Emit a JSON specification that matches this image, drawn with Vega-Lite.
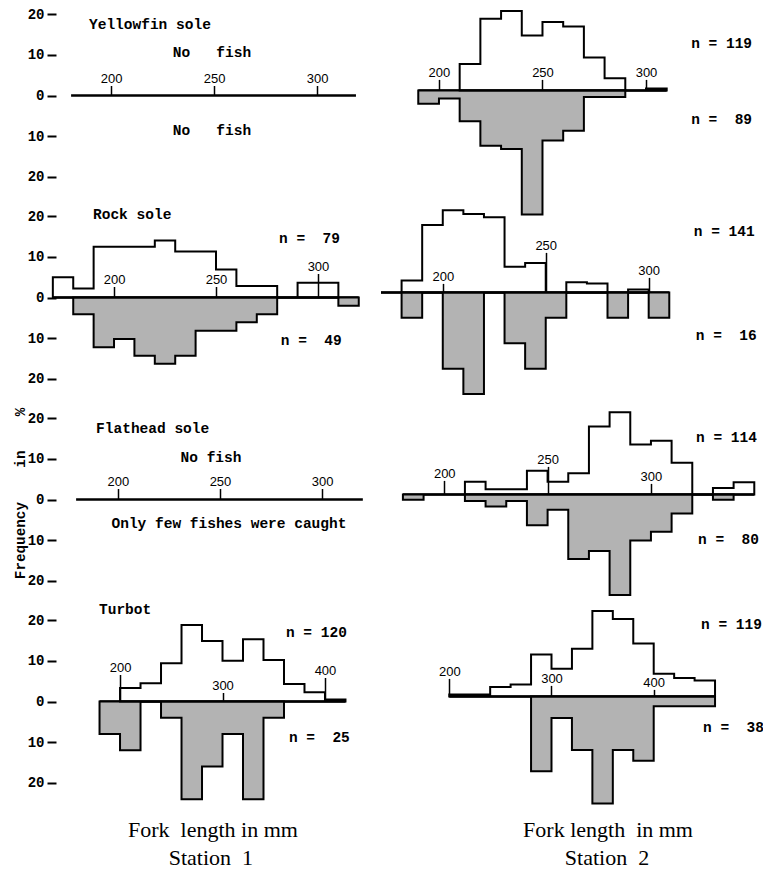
{
  "$schema": "https://vega.github.io/schema/vega-lite/v6.json",
  "background": "white",
  "padding": {"left": 13, "top": 6, "right": 0, "bottom": 0},
  "bounds": "flush",
  "columns": 2,
  "spacing": {"row": 23, "column": 10},
  "datasets": {
    "b": [
      {"p": "Y1", "from": 180.6, "to": 318.9},
      {"p": "Y2", "from": 190, "to": 310},
      {"p": "R1", "from": 170, "to": 320},
      {"p": "R2", "from": 170, "to": 310},
      {"p": "F1", "from": 179.5, "to": 320},
      {"p": "F2", "from": 180, "to": 350},
      {"p": "T1", "from": 180, "to": 420},
      {"p": "T2", "from": 200, "to": 460}
    ],
    "h": [
      {"p": "Y2", "d": "up", "len": 210, "pct": 6.5},
      {"p": "Y2", "d": "up", "len": 220, "pct": 17.6},
      {"p": "Y2", "d": "up", "len": 230, "pct": 19.5},
      {"p": "Y2", "d": "up", "len": 240, "pct": 13.5},
      {"p": "Y2", "d": "up", "len": 250, "pct": 16.8},
      {"p": "Y2", "d": "up", "len": 260, "pct": 15.7},
      {"p": "Y2", "d": "up", "len": 270, "pct": 8.1},
      {"p": "Y2", "d": "up", "len": 280, "pct": 3.0},
      {"p": "Y2", "d": "up", "len": 290, "pct": 0},
      {"p": "Y2", "d": "up", "len": 300, "pct": 0.5},
      {"p": "Y2", "d": "up", "len": 310, "pct": 0},
      {"p": "Y2", "d": "dn", "len": 190, "pct": -3.3},
      {"p": "Y2", "d": "dn", "len": 200, "pct": -2.0},
      {"p": "Y2", "d": "dn", "len": 210, "pct": -7.6},
      {"p": "Y2", "d": "dn", "len": 220, "pct": -13.6},
      {"p": "Y2", "d": "dn", "len": 230, "pct": -14.4},
      {"p": "Y2", "d": "dn", "len": 240, "pct": -30.5},
      {"p": "Y2", "d": "dn", "len": 250, "pct": -12.3},
      {"p": "Y2", "d": "dn", "len": 260, "pct": -9.9},
      {"p": "Y2", "d": "dn", "len": 270, "pct": -1.6},
      {"p": "Y2", "d": "dn", "len": 280, "pct": -1.6},
      {"p": "Y2", "d": "dn", "len": 290, "pct": 0},

      {"p": "R1", "d": "up", "len": 170, "pct": 5.0},
      {"p": "R1", "d": "up", "len": 180, "pct": 2.2},
      {"p": "R1", "d": "up", "len": 190, "pct": 12.5},
      {"p": "R1", "d": "up", "len": 200, "pct": 12.5},
      {"p": "R1", "d": "up", "len": 210, "pct": 12.5},
      {"p": "R1", "d": "up", "len": 220, "pct": 14.0},
      {"p": "R1", "d": "up", "len": 230, "pct": 11.3},
      {"p": "R1", "d": "up", "len": 240, "pct": 11.3},
      {"p": "R1", "d": "up", "len": 250, "pct": 6.9},
      {"p": "R1", "d": "up", "len": 260, "pct": 2.8},
      {"p": "R1", "d": "up", "len": 270, "pct": 2.8},
      {"p": "R1", "d": "up", "len": 280, "pct": 0},
      {"p": "R1", "d": "up", "len": 290, "pct": 3.6},
      {"p": "R1", "d": "up", "len": 300, "pct": 3.6},
      {"p": "R1", "d": "up", "len": 310, "pct": 0},
      {"p": "R1", "d": "dn", "len": 180, "pct": -4.1},
      {"p": "R1", "d": "dn", "len": 190, "pct": -12.2},
      {"p": "R1", "d": "dn", "len": 200, "pct": -10.2},
      {"p": "R1", "d": "dn", "len": 210, "pct": -14.3},
      {"p": "R1", "d": "dn", "len": 220, "pct": -16.3},
      {"p": "R1", "d": "dn", "len": 230, "pct": -14.3},
      {"p": "R1", "d": "dn", "len": 240, "pct": -8.2},
      {"p": "R1", "d": "dn", "len": 250, "pct": -8.2},
      {"p": "R1", "d": "dn", "len": 260, "pct": -6.1},
      {"p": "R1", "d": "dn", "len": 270, "pct": -4.1},
      {"p": "R1", "d": "dn", "len": 280, "pct": 0},
      {"p": "R1", "d": "dn", "len": 290, "pct": 0},
      {"p": "R1", "d": "dn", "len": 300, "pct": 0},
      {"p": "R1", "d": "dn", "len": 310, "pct": -2.0},
      {"p": "R1", "d": "dn", "len": 320, "pct": 0},

      {"p": "R2", "d": "up", "len": 170, "pct": 0},
      {"p": "R2", "d": "up", "len": 180, "pct": 2.9},
      {"p": "R2", "d": "up", "len": 190, "pct": 16.6},
      {"p": "R2", "d": "up", "len": 200, "pct": 20.2},
      {"p": "R2", "d": "up", "len": 210, "pct": 19.3},
      {"p": "R2", "d": "up", "len": 220, "pct": 18.5},
      {"p": "R2", "d": "up", "len": 230, "pct": 6.3},
      {"p": "R2", "d": "up", "len": 240, "pct": 7.2},
      {"p": "R2", "d": "up", "len": 250, "pct": 0},
      {"p": "R2", "d": "up", "len": 260, "pct": 2.5},
      {"p": "R2", "d": "up", "len": 270, "pct": 2.2},
      {"p": "R2", "d": "up", "len": 280, "pct": 0},
      {"p": "R2", "d": "up", "len": 290, "pct": 0.7},
      {"p": "R2", "d": "up", "len": 300, "pct": 0},
      {"p": "R2", "d": "dn", "len": 180, "pct": -6.25},
      {"p": "R2", "d": "dn", "len": 190, "pct": 0},
      {"p": "R2", "d": "dn", "len": 200, "pct": -18.75},
      {"p": "R2", "d": "dn", "len": 210, "pct": -25},
      {"p": "R2", "d": "dn", "len": 220, "pct": 0},
      {"p": "R2", "d": "dn", "len": 230, "pct": -12.5},
      {"p": "R2", "d": "dn", "len": 240, "pct": -18.75},
      {"p": "R2", "d": "dn", "len": 250, "pct": -6.25},
      {"p": "R2", "d": "dn", "len": 260, "pct": 0},
      {"p": "R2", "d": "dn", "len": 270, "pct": 0},
      {"p": "R2", "d": "dn", "len": 280, "pct": -6.25},
      {"p": "R2", "d": "dn", "len": 290, "pct": 0},
      {"p": "R2", "d": "dn", "len": 300, "pct": -6.25},
      {"p": "R2", "d": "dn", "len": 310, "pct": 0},

      {"p": "F2", "d": "up", "len": 210, "pct": 3.1},
      {"p": "F2", "d": "up", "len": 220, "pct": 1.3},
      {"p": "F2", "d": "up", "len": 230, "pct": 1.3},
      {"p": "F2", "d": "up", "len": 240, "pct": 5.8},
      {"p": "F2", "d": "up", "len": 250, "pct": 3.1},
      {"p": "F2", "d": "up", "len": 260, "pct": 5.2},
      {"p": "F2", "d": "up", "len": 270, "pct": 16.7},
      {"p": "F2", "d": "up", "len": 280, "pct": 20.2},
      {"p": "F2", "d": "up", "len": 290, "pct": 12.3},
      {"p": "F2", "d": "up", "len": 300, "pct": 13.2},
      {"p": "F2", "d": "up", "len": 310, "pct": 7.8},
      {"p": "F2", "d": "up", "len": 320, "pct": 0},
      {"p": "F2", "d": "up", "len": 330, "pct": 1.6},
      {"p": "F2", "d": "up", "len": 340, "pct": 3.0},
      {"p": "F2", "d": "up", "len": 350, "pct": 0},
      {"p": "F2", "d": "dn", "len": 180, "pct": -1.3},
      {"p": "F2", "d": "dn", "len": 190, "pct": 0},
      {"p": "F2", "d": "dn", "len": 200, "pct": 0},
      {"p": "F2", "d": "dn", "len": 210, "pct": -1.6},
      {"p": "F2", "d": "dn", "len": 220, "pct": -3.0},
      {"p": "F2", "d": "dn", "len": 230, "pct": -1.6},
      {"p": "F2", "d": "dn", "len": 240, "pct": -7.6},
      {"p": "F2", "d": "dn", "len": 250, "pct": -3.8},
      {"p": "F2", "d": "dn", "len": 260, "pct": -15.9},
      {"p": "F2", "d": "dn", "len": 270, "pct": -13.9},
      {"p": "F2", "d": "dn", "len": 280, "pct": -24.7},
      {"p": "F2", "d": "dn", "len": 290, "pct": -11.3},
      {"p": "F2", "d": "dn", "len": 300, "pct": -9.2},
      {"p": "F2", "d": "dn", "len": 310, "pct": -4.7},
      {"p": "F2", "d": "dn", "len": 320, "pct": 0},
      {"p": "F2", "d": "dn", "len": 330, "pct": -1.3},
      {"p": "F2", "d": "dn", "len": 340, "pct": 0},

      {"p": "T1", "d": "up", "len": 200, "pct": 3.3},
      {"p": "T1", "d": "up", "len": 220, "pct": 4.5},
      {"p": "T1", "d": "up", "len": 240, "pct": 9.4},
      {"p": "T1", "d": "up", "len": 260, "pct": 18.8},
      {"p": "T1", "d": "up", "len": 280, "pct": 14.9},
      {"p": "T1", "d": "up", "len": 300, "pct": 10.0},
      {"p": "T1", "d": "up", "len": 320, "pct": 15.3},
      {"p": "T1", "d": "up", "len": 340, "pct": 10.2},
      {"p": "T1", "d": "up", "len": 360, "pct": 4.3},
      {"p": "T1", "d": "up", "len": 380, "pct": 2.3},
      {"p": "T1", "d": "up", "len": 400, "pct": 0.5},
      {"p": "T1", "d": "up", "len": 420, "pct": 0},
      {"p": "T1", "d": "dn", "len": 180, "pct": -8},
      {"p": "T1", "d": "dn", "len": 200, "pct": -12},
      {"p": "T1", "d": "dn", "len": 220, "pct": 0},
      {"p": "T1", "d": "dn", "len": 240, "pct": -4},
      {"p": "T1", "d": "dn", "len": 260, "pct": -24},
      {"p": "T1", "d": "dn", "len": 280, "pct": -16},
      {"p": "T1", "d": "dn", "len": 300, "pct": -8},
      {"p": "T1", "d": "dn", "len": 320, "pct": -24},
      {"p": "T1", "d": "dn", "len": 340, "pct": -4},
      {"p": "T1", "d": "dn", "len": 360, "pct": 0},

      {"p": "T2", "d": "up", "len": 200, "pct": 0.5},
      {"p": "T2", "d": "up", "len": 220, "pct": 0.5},
      {"p": "T2", "d": "up", "len": 240, "pct": 2.3},
      {"p": "T2", "d": "up", "len": 260, "pct": 2.9},
      {"p": "T2", "d": "up", "len": 280, "pct": 10.3},
      {"p": "T2", "d": "up", "len": 300, "pct": 6.8},
      {"p": "T2", "d": "up", "len": 320, "pct": 11.7},
      {"p": "T2", "d": "up", "len": 340, "pct": 21.0},
      {"p": "T2", "d": "up", "len": 360, "pct": 19.0},
      {"p": "T2", "d": "up", "len": 380, "pct": 13.0},
      {"p": "T2", "d": "up", "len": 400, "pct": 5.6},
      {"p": "T2", "d": "up", "len": 420, "pct": 4.5},
      {"p": "T2", "d": "up", "len": 440, "pct": 3.9},
      {"p": "T2", "d": "up", "len": 460, "pct": 0},
      {"p": "T2", "d": "dn", "len": 280, "pct": -18.4},
      {"p": "T2", "d": "dn", "len": 300, "pct": -5.3},
      {"p": "T2", "d": "dn", "len": 320, "pct": -13.2},
      {"p": "T2", "d": "dn", "len": 340, "pct": -26.3},
      {"p": "T2", "d": "dn", "len": 360, "pct": -13.2},
      {"p": "T2", "d": "dn", "len": 380, "pct": -15.8},
      {"p": "T2", "d": "dn", "len": 400, "pct": -2.4},
      {"p": "T2", "d": "dn", "len": 420, "pct": -2.4},
      {"p": "T2", "d": "dn", "len": 440, "pct": -2.4},
      {"p": "T2", "d": "dn", "len": 460, "pct": 0}
    ]
  },
  "concat": [
    {
      "width": 310, "height": 179,
      "layer": [
        {"data": {"name": "b"}, "transform": [{"filter": "datum.p == 'Y1'"}], "mark": {"type": "rule"},
         "encoding": {
           "x": {"field": "from", "type": "quantitative", "title": null, "scale": {"domain": [175.7, 326.2], "nice": false, "zero": false}, "axis": {"orient": "top", "offset": -89.5, "values": [200, 250, 300], "tickSize": 10, "title": null}},
           "x2": {"field": "to"},
           "y": {"datum": 0, "type": "quantitative", "scale": {"domain": [-22, 22], "nice": false, "zero": false}, "axis": {"orient": "left", "values": [-20, -10, 0, 10, 20], "labelExpr": "abs(datum.value)", "title": null}}
         }},
        {"data": {"values": [{}]}, "mark": {"type": "text", "text": "Yellowfin sole"}, "encoding": {"x": {"datum": 189.3, "type": "quantitative"}, "y": {"datum": 17.3, "type": "quantitative"}}},
        {"data": {"values": [{}]}, "mark": {"type": "text", "text": "No\u00a0\u00a0\u00a0fish", "align": "center"}, "encoding": {"x": {"datum": 249.0, "type": "quantitative"}, "y": {"datum": 10.4, "type": "quantitative"}}},
        {"data": {"values": [{}]}, "mark": {"type": "text", "text": "No\u00a0\u00a0\u00a0fish", "align": "center"}, "encoding": {"x": {"datum": 249.0, "type": "quantitative"}, "y": {"datum": -8.7, "type": "quantitative"}}}
      ]
    },
    {
      "width": 383, "height": 179,
      "layer": [
        {"data": {"name": "b"}, "transform": [{"filter": "datum.p == 'Y2'"}], "mark": {"type": "rule"},
         "encoding": {
           "x": {"field": "from", "type": "quantitative", "title": null, "scale": {"domain": [172.0, 357.0], "nice": false, "zero": false}, "axis": {"orient": "top", "offset": -84.4, "values": [200, 250, 300], "tickSize": 11, "title": null}},
           "x2": {"field": "to"},
           "y": {"datum": 0, "type": "quantitative", "scale": {"domain": [-23.25, 20.75], "nice": false, "zero": false}, "axis": null}
         }},
        {"data": {"name": "h"}, "transform": [{"filter": "datum.p == 'Y2' && datum.d == 'dn'"}], "mark": {"type": "area", "interpolate": "step-after", "fill": "#b3b3b3"},
         "encoding": {"x": {"field": "len", "type": "quantitative", "title": null}, "y": {"field": "pct", "type": "quantitative", "stack": null, "title": null}, "y2": {"datum": 0}}},
        {"data": {"name": "h"}, "transform": [{"filter": "datum.p == 'Y2' && datum.d == 'up'"}], "mark": {"type": "area", "interpolate": "step-after", "fill": "white", "fillOpacity": 0},
         "encoding": {"x": {"field": "len", "type": "quantitative", "title": null}, "y": {"field": "pct", "type": "quantitative", "stack": null, "title": null}, "y2": {"datum": 0}}},
        {"data": {"values": [{}]}, "mark": {"type": "text", "text": "n = 119"}, "encoding": {"x": {"datum": 321.8, "type": "quantitative"}, "y": {"datum": 11.4, "type": "quantitative"}}},
        {"data": {"values": [{}]}, "mark": {"type": "text", "text": "n =\u00a0\u00a089"}, "encoding": {"x": {"datum": 321.8, "type": "quantitative"}, "y": {"datum": -7.3, "type": "quantitative"}}}
      ]
    },
    {
      "width": 310, "height": 179,
      "layer": [
        {"data": {"name": "b"}, "transform": [{"filter": "datum.p == 'R1'"}], "mark": {"type": "rule"},
         "encoding": {
           "x": {"field": "from", "type": "quantitative", "title": null, "scale": {"domain": [174.0, 326.0], "nice": false, "zero": false}, "axis": {"orient": "top", "offset": -89.5, "values": [200, 250, 300], "tickSize": {"expr": "datum.value == 300 ? 24 : 11"}, "title": null}},
           "x2": {"field": "to"},
           "y": {"datum": 0, "type": "quantitative", "scale": {"domain": [-22, 22], "nice": false, "zero": false}, "axis": {"orient": "left", "values": [-20, -10, 0, 10, 20], "labelExpr": "abs(datum.value)", "title": null}}
         }},
        {"data": {"name": "h"}, "transform": [{"filter": "datum.p == 'R1' && datum.d == 'dn'"}], "mark": {"type": "area", "interpolate": "step-after", "fill": "#b3b3b3"},
         "encoding": {"x": {"field": "len", "type": "quantitative", "title": null}, "y": {"field": "pct", "type": "quantitative", "stack": null, "title": null}, "y2": {"datum": 0}}},
        {"data": {"name": "h"}, "transform": [{"filter": "datum.p == 'R1' && datum.d == 'up'"}], "mark": {"type": "area", "interpolate": "step-after", "fill": "white", "fillOpacity": 0},
         "encoding": {"x": {"field": "len", "type": "quantitative", "title": null}, "y": {"field": "pct", "type": "quantitative", "stack": null, "title": null}, "y2": {"datum": 0}}},
        {"data": {"values": [{}]}, "mark": {"type": "text", "text": "Rock sole"}, "encoding": {"x": {"datum": 189.7, "type": "quantitative"}, "y": {"datum": 20.3, "type": "quantitative"}}},
        {"data": {"values": [{}]}, "mark": {"type": "text", "text": "n =\u00a0\u00a079"}, "encoding": {"x": {"datum": 280.9, "type": "quantitative"}, "y": {"datum": 14.4, "type": "quantitative"}}},
        {"data": {"values": [{}]}, "mark": {"type": "text", "text": "n =\u00a0\u00a049"}, "encoding": {"x": {"datum": 281.8, "type": "quantitative"}, "y": {"datum": -10.7, "type": "quantitative"}}}
      ]
    },
    {
      "width": 383, "height": 179,
      "layer": [
        {"data": {"name": "b"}, "transform": [{"filter": "datum.p == 'R2'"}], "mark": {"type": "rule"},
         "encoding": {
           "x": {"field": "from", "type": "quantitative", "title": null, "scale": {"domain": [170.0, 356.0], "nice": false, "zero": false}, "axis": {"orient": "top", "offset": -84.4, "values": [200, 250, 300], "tickSize": {"expr": "datum.value == 250 ? 40 : (datum.value == 300 ? 15 : 9)"}, "title": null}},
           "x2": {"field": "to"},
           "y": {"datum": 0, "type": "quantitative", "scale": {"domain": [-23.25, 20.75], "nice": false, "zero": false}, "axis": null}
         }},
        {"data": {"name": "h"}, "transform": [{"filter": "datum.p == 'R2' && datum.d == 'dn'"}], "mark": {"type": "area", "interpolate": "step-after", "fill": "#b3b3b3"},
         "encoding": {"x": {"field": "len", "type": "quantitative", "title": null}, "y": {"field": "pct", "type": "quantitative", "stack": null, "title": null}, "y2": {"datum": 0}}},
        {"data": {"name": "h"}, "transform": [{"filter": "datum.p == 'R2' && datum.d == 'up'"}], "mark": {"type": "area", "interpolate": "step-after", "fill": "white", "fillOpacity": 0},
         "encoding": {"x": {"field": "len", "type": "quantitative", "title": null}, "y": {"field": "pct", "type": "quantitative", "stack": null, "title": null}, "y2": {"datum": 0}}},
        {"data": {"values": [{}]}, "mark": {"type": "text", "text": "n = 141"}, "encoding": {"x": {"datum": 321.9, "type": "quantitative"}, "y": {"datum": 14.8, "type": "quantitative"}}},
        {"data": {"values": [{}]}, "mark": {"type": "text", "text": "n =\u00a0\u00a016"}, "encoding": {"x": {"datum": 322.9, "type": "quantitative"}, "y": {"datum": -10.7, "type": "quantitative"}}}
      ]
    },
    {
      "width": 310, "height": 179,
      "layer": [
        {"data": {"name": "b"}, "transform": [{"filter": "datum.p == 'F1'"}], "mark": {"type": "rule"},
         "encoding": {
           "x": {"field": "from", "type": "quantitative", "title": null, "scale": {"domain": [172.1, 324.0], "nice": false, "zero": false}, "axis": {"orient": "top", "offset": -89.5, "values": [200, 250, 300], "tickSize": 11, "title": null}},
           "x2": {"field": "to"},
           "y": {"datum": 0, "type": "quantitative", "scale": {"domain": [-22, 22], "nice": false, "zero": false}, "axis": {"orient": "left", "values": [-20, -10, 0, 10, 20], "labelExpr": "abs(datum.value)", "title": null}}
         }},
        {"data": {"values": [{}]}, "mark": {"type": "text", "text": "Flathead sole"}, "encoding": {"x": {"datum": 189.3, "type": "quantitative"}, "y": {"datum": 17.3, "type": "quantitative"}}},
        {"data": {"values": [{}]}, "mark": {"type": "text", "text": "No fish", "align": "center"}, "encoding": {"x": {"datum": 245.6, "type": "quantitative"}, "y": {"datum": 10.2, "type": "quantitative"}}},
        {"data": {"values": [{}]}, "mark": {"type": "text", "text": "Only few fishes were caught", "align": "center"}, "encoding": {"x": {"datum": 254.4, "type": "quantitative"}, "y": {"datum": -6.0, "type": "quantitative"}}},
        {"data": {"values": [{}]}, "mark": {"type": "text", "text": "Frequency\u00a0\u00a0\u00a0\u00a0in\u00a0\u00a0\u00a0\u00a0%", "align": "center", "angle": 270, "fontSize": 14.3}, "encoding": {"x": {"datum": 152.5, "type": "quantitative"}, "y": {"datum": 1.5, "type": "quantitative"}}}
      ]
    },
    {
      "width": 383, "height": 179,
      "layer": [
        {"data": {"name": "b"}, "transform": [{"filter": "datum.p == 'F2'"}], "mark": {"type": "rule"},
         "encoding": {
           "x": {"field": "from", "type": "quantitative", "title": null, "scale": {"domain": [169.4, 354.7], "nice": false, "zero": false}, "axis": {"orient": "top", "offset": -84.4, "values": [200, 250, 300], "tickSize": {"expr": "datum.value == 250 ? 28 : (datum.value == 200 ? 14 : 11)"}, "title": null}},
           "x2": {"field": "to"},
           "y": {"datum": 0, "type": "quantitative", "scale": {"domain": [-23.25, 20.75], "nice": false, "zero": false}, "axis": null}
         }},
        {"data": {"name": "h"}, "transform": [{"filter": "datum.p == 'F2' && datum.d == 'dn'"}], "mark": {"type": "area", "interpolate": "step-after", "fill": "#b3b3b3"},
         "encoding": {"x": {"field": "len", "type": "quantitative", "title": null}, "y": {"field": "pct", "type": "quantitative", "stack": null, "title": null}, "y2": {"datum": 0}}},
        {"data": {"name": "h"}, "transform": [{"filter": "datum.p == 'F2' && datum.d == 'up'"}], "mark": {"type": "area", "interpolate": "step-after", "fill": "white", "fillOpacity": 0},
         "encoding": {"x": {"field": "len", "type": "quantitative", "title": null}, "y": {"field": "pct", "type": "quantitative", "stack": null, "title": null}, "y2": {"datum": 0}}},
        {"data": {"values": [{}]}, "mark": {"type": "text", "text": "n = 114"}, "encoding": {"x": {"datum": 321.8, "type": "quantitative"}, "y": {"datum": 13.9, "type": "quantitative"}}},
        {"data": {"values": [{}]}, "mark": {"type": "text", "text": "n =\u00a0\u00a080"}, "encoding": {"x": {"datum": 322.8, "type": "quantitative"}, "y": {"datum": -11.2, "type": "quantitative"}}}
      ]
    },
    {
      "width": 310, "height": 179,
      "layer": [
        {"data": {"name": "b"}, "transform": [{"filter": "datum.p == 'T1'"}], "mark": {"type": "rule"},
         "encoding": {
           "x": {"field": "from", "type": "quantitative", "title": null, "scale": {"domain": [142.4, 444.9], "nice": false, "zero": false}, "axis": {"orient": "top", "offset": -89.5, "values": [200, 300, 400], "tickSize": {"expr": "datum.value == 200 ? 27 : (datum.value == 400 ? 24 : 9)"}, "title": null}},
           "x2": {"field": "to"},
           "y": {"datum": 0, "type": "quantitative", "scale": {"domain": [-22, 22], "nice": false, "zero": false}, "axis": {"orient": "left", "values": [-20, -10, 0, 10, 20], "labelExpr": "abs(datum.value)", "title": null}}
         }},
        {"data": {"name": "h"}, "transform": [{"filter": "datum.p == 'T1' && datum.d == 'dn'"}], "mark": {"type": "area", "interpolate": "step-after", "fill": "#b3b3b3"},
         "encoding": {"x": {"field": "len", "type": "quantitative", "title": null}, "y": {"field": "pct", "type": "quantitative", "stack": null, "title": null}, "y2": {"datum": 0}}},
        {"data": {"name": "h"}, "transform": [{"filter": "datum.p == 'T1' && datum.d == 'up'"}], "mark": {"type": "area", "interpolate": "step-after", "fill": "white", "fillOpacity": 0},
         "encoding": {"x": {"field": "len", "type": "quantitative", "title": null}, "y": {"field": "pct", "type": "quantitative", "stack": null, "title": null}, "y2": {"datum": 0}}},
        {"data": {"values": [{}]}, "mark": {"type": "text", "text": "Turbot"}, "encoding": {"x": {"datum": 179.5, "type": "quantitative"}, "y": {"datum": 22.5, "type": "quantitative"}}},
        {"data": {"values": [{}]}, "mark": {"type": "text", "text": "n = 120"}, "encoding": {"x": {"datum": 361.9, "type": "quantitative"}, "y": {"datum": 16.8, "type": "quantitative"}}},
        {"data": {"values": [{}]}, "mark": {"type": "text", "text": "n =\u00a0\u00a025"}, "encoding": {"x": {"datum": 364.8, "type": "quantitative"}, "y": {"datum": -9.0, "type": "quantitative"}}},
        {"data": {"values": [{}]}, "mark": {"type": "text", "text": "Fork\u00a0\u00a0length in mm", "align": "center", "font": "Liberation Serif", "fontWeight": "normal", "fontSize": 22}, "encoding": {"x": {"datum": 290.7, "type": "quantitative"}, "y": {"datum": -31.6, "type": "quantitative"}}},
        {"data": {"values": [{}]}, "mark": {"type": "text", "text": "Station\u00a0\u00a01", "align": "center", "font": "Liberation Serif", "fontWeight": "normal", "fontSize": 22}, "encoding": {"x": {"datum": 288.7, "type": "quantitative"}, "y": {"datum": -38.5, "type": "quantitative"}}}
      ]
    },
    {
      "width": 383, "height": 179,
      "layer": [
        {"data": {"name": "b"}, "transform": [{"filter": "datum.p == 'T2'"}], "mark": {"type": "rule"},
         "encoding": {
           "x": {"field": "from", "type": "quantitative", "title": null, "scale": {"domain": [133.2, 507.9], "nice": false, "zero": false}, "axis": {"orient": "top", "offset": -84.4, "values": [200, 300, 400], "tickSize": {"expr": "datum.value == 200 ? 18 : (datum.value == 400 ? 7 : 11)"}, "title": null}},
           "x2": {"field": "to"},
           "y": {"datum": 0, "type": "quantitative", "scale": {"domain": [-23.25, 20.75], "nice": false, "zero": false}, "axis": null}
         }},
        {"data": {"name": "h"}, "transform": [{"filter": "datum.p == 'T2' && datum.d == 'dn'"}], "mark": {"type": "area", "interpolate": "step-after", "fill": "#b3b3b3"},
         "encoding": {"x": {"field": "len", "type": "quantitative", "title": null}, "y": {"field": "pct", "type": "quantitative", "stack": null, "title": null}, "y2": {"datum": 0}}},
        {"data": {"name": "h"}, "transform": [{"filter": "datum.p == 'T2' && datum.d == 'up'"}], "mark": {"type": "area", "interpolate": "step-after", "fill": "white", "fillOpacity": 0},
         "encoding": {"x": {"field": "len", "type": "quantitative", "title": null}, "y": {"field": "pct", "type": "quantitative", "stack": null, "title": null}, "y2": {"datum": 0}}},
        {"data": {"values": [{}]}, "mark": {"type": "text", "text": "n = 119"}, "encoding": {"x": {"datum": 446.3, "type": "quantitative"}, "y": {"datum": 17.6, "type": "quantitative"}}},
        {"data": {"values": [{}]}, "mark": {"type": "text", "text": "n =\u00a0\u00a038"}, "encoding": {"x": {"datum": 448.3, "type": "quantitative"}, "y": {"datum": -7.8, "type": "quantitative"}}},
        {"data": {"values": [{}]}, "mark": {"type": "text", "text": "Fork length\u00a0\u00a0in mm", "align": "center", "font": "Liberation Serif", "fontWeight": "normal", "fontSize": 22}, "encoding": {"x": {"datum": 355.3, "type": "quantitative"}, "y": {"datum": -32.8, "type": "quantitative"}}},
        {"data": {"values": [{}]}, "mark": {"type": "text", "text": "Station\u00a0\u00a02", "align": "center", "font": "Liberation Serif", "fontWeight": "normal", "fontSize": 22}, "encoding": {"x": {"datum": 354.3, "type": "quantitative"}, "y": {"datum": -39.7, "type": "quantitative"}}}
      ]
    }
  ],
  "config": {
    "view": {"stroke": null},
    "axis": {"grid": false, "domain": false, "tickColor": "black", "labelColor": "black"},
    "axisTop": {"tickWidth": 1.5, "labelPadding": 0, "labelFont": "Liberation Sans", "labelFontSize": 13, "labelFlush": false, "zindex": 1},
    "axisLeft": {"offset": 5, "tickSize": 9, "tickWidth": 2, "labelPadding": 3, "labelFont": "Liberation Mono", "labelFontWeight": "bold", "labelFontSize": 14, "labelFlush": false},
    "text": {"font": "Liberation Mono", "fontWeight": "bold", "fontSize": 14.5, "baseline": "middle", "align": "left", "color": "black"},
    "area": {"stroke": "black", "strokeWidth": 2, "strokeJoin": "miter"},
    "rule": {"strokeWidth": 2.5, "color": "black"}
  }
}
